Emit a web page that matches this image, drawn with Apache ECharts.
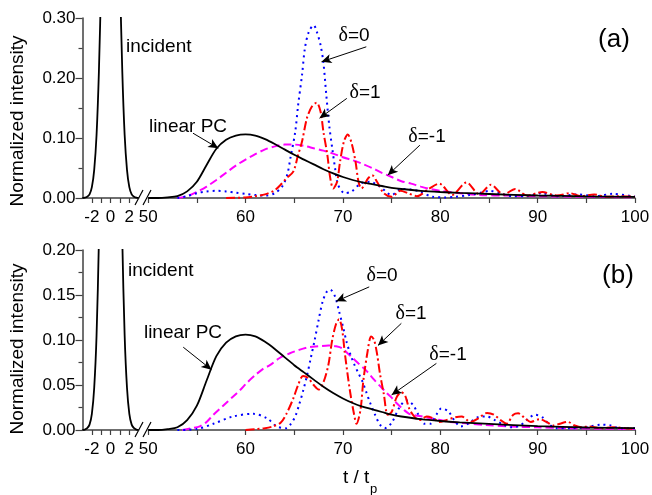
<!DOCTYPE html>
<html><head><meta charset="utf-8">
<script src="https://cdn.jsdelivr.net/npm/echarts@6/dist/echarts.min.js"></script>
<style>html,body{margin:0;padding:0;background:#fff}#c{width:652px;height:495px}</style>
</head><body><div id="c"></div>
<script>
// ---------- data ----------
const incT = [-3, -2.75, -2.5, -2.25, -2, -1.75, -1.5, -1.25, -1, -0.75, -0.5, -0.25, 0, 0.25, 0.5, 0.75, 1, 1.25, 1.5, 1.75, 2, 2.25, 2.5, 2.75, 3];
const incV = [0.0001, 0.0005, 0.002, 0.006, 0.018, 0.047, 0.105, 0.21, 0.37, 0.57, 0.78, 0.94, 1, 0.94, 0.78, 0.57, 0.37, 0.21, 0.105, 0.047, 0.018, 0.006, 0.002, 0.0005, 0.0001];

const pcT = [50, 51, 52, 53, 54, 55, 56, 57, 58, 59, 60, 61, 62, 63, 64, 65, 66, 67, 68, 69, 70, 71, 72, 73, 74, 75, 76, 78, 80, 82, 85, 90, 95, 100];
const pcV = [0, 0, 0.001, 0.003, 0.011, 0.027, 0.055, 0.082, 0.097, 0.104, 0.106, 0.104, 0.098, 0.090, 0.081, 0.072, 0.064, 0.056, 0.048, 0.041, 0.035, 0.030, 0.026, 0.023, 0.020, 0.017, 0.015, 0.012, 0.010, 0.0085, 0.0067, 0.0042, 0.0028, 0.002];

// panel (a)
const a0T = [53, 54, 55, 56, 57, 58, 59, 60, 61, 62, 63, 63.8, 64.3, 64.6, 65.1, 65.4, 65.8, 66.1, 66.5, 67.0, 67.3, 67.7, 68.0, 68.3, 68.6, 68.9, 69.2, 69.5, 70.2, 70.9, 71.8, 72.8, 73.8, 75, 76, 77, 77.9, 79.2, 80.5, 81.5, 83, 84.2, 85.1, 86.1, 87.5, 88.8, 90.4, 92, 94.1, 96, 97.7, 100];
const a0V = [0, 0.003, 0.008, 0.011, 0.012, 0.011, 0.009, 0.007, 0.005, 0.004, 0.008, 0.02, 0.04, 0.066, 0.11, 0.155, 0.205, 0.25, 0.277, 0.288, 0.278, 0.255, 0.225, 0.17, 0.12, 0.083, 0.049, 0.022, 0.008, 0.011, 0.024, 0.027, 0.019, 0.005, 0.015, 0.014, 0.011, 0.002, 0.001, 0.002, 0.005, 0.009, 0.012, 0.008, 0.003, 0.003, 0.008, 0.003, 0.006, 0.003, 0.007, 0.002];

const a1T = [58, 60, 61, 62, 63, 63.6, 64.2, 64.9, 65.4, 65.8, 66.3, 66.8, 67.3, 67.7, 68.0, 68.4, 68.7, 69.0, 69.4, 69.7, 70.1, 70.5, 70.9, 71.3, 71.6, 71.9, 72.6, 73.0, 73.5, 74.2, 75.0, 75.9, 76.7, 77.6, 78.8, 79.9, 81.2, 82.7, 84.0, 85.2, 86.5, 87.7, 88.9, 90.5, 92.0, 93.3, 94.5, 95.8, 97.0, 98.4, 100];
const a1V = [0, 0.001, 0.003, 0.006, 0.013, 0.022, 0.033, 0.044, 0.072, 0.094, 0.133, 0.152, 0.159, 0.144, 0.11, 0.072, 0.033, 0.016, 0.027, 0.06, 0.094, 0.106, 0.091, 0.06, 0.027, 0.016, 0.033, 0.038, 0.027, 0.008, 0.002, 0.012, 0.008, 0.003, 0.015, 0.024, 0.005, 0.026, 0.006, 0.022, 0.006, 0.015, 0.004, 0.010, 0.004, 0.008, 0.003, 0.006, 0.002, 0.003, 0.002];

const amT = [53, 54, 55, 56, 57, 58, 59, 60, 61, 62, 63, 64, 65, 66, 67, 68, 69, 70, 71, 72, 73, 74, 75, 76, 77, 78, 79, 80, 82, 84, 87, 90, 95, 100];
const amV = [0, 0.003, 0.01, 0.019, 0.03, 0.042, 0.054, 0.064, 0.073, 0.081, 0.086, 0.089, 0.089, 0.087, 0.083, 0.079, 0.074, 0.068, 0.063, 0.057, 0.05, 0.042, 0.035, 0.028, 0.024, 0.019, 0.015, 0.012, 0.008, 0.005, 0.004, 0.003, 0.002, 0.001];

// panel (b)
const b0T = [53, 55, 56.7, 58.7, 60.8, 62.2, 63.2, 64.2, 64.6, 65.1, 65.5, 65.9, 66.3, 66.7, 67.1, 67.5, 67.9, 68.3, 68.7, 69.2, 69.6, 70.0, 70.4, 70.8, 71.2, 71.6, 72.0, 72.4, 72.8, 73.3, 73.8, 74.3, 75.0, 75.8, 76.5, 77.2, 77.7, 78.4, 79.0, 79.6, 80.1, 80.8, 81.5, 82.1, 83.0, 83.8, 84.8, 85.6, 86.5, 87.3, 88.2, 89.0, 89.7, 90.5, 91.2, 92.0, 93.5, 95.0, 96.5, 97.5, 98.5, 100];
const b0V = [0, 0.001, 0.007, 0.015, 0.018, 0.013, 0.004, 0.002, 0.006, 0.015, 0.028, 0.043, 0.06, 0.08, 0.1, 0.122, 0.142, 0.153, 0.156, 0.148, 0.132, 0.115, 0.097, 0.083, 0.072, 0.063, 0.054, 0.042, 0.03, 0.017, 0.006, 0.002, 0.008, 0.025, 0.033, 0.028, 0.018, 0.007, 0.007, 0.017, 0.024, 0.021, 0.01, 0.004, 0.008, 0.014, 0.015, 0.011, 0.006, 0.003, 0.005, 0.012, 0.017, 0.014, 0.006, 0.002, 0.002, 0.003, 0.006, 0.005, 0.002, 0.002];

const b1T = [60, 61, 62, 62.8, 63.6, 64.2, 64.9, 65.4, 65.9, 66.4, 67.0, 67.5, 68.0, 68.5, 68.9, 69.3, 69.6, 69.9, 70.2, 70.7, 71.1, 71.4, 71.8, 72.1, 72.5, 72.9, 73.2, 73.5, 73.8, 74.2, 74.6, 75.0, 75.5, 76.0, 76.4, 76.8, 77.4, 77.9, 78.6, 79.3, 79.9, 80.6, 81.5, 82.2, 83.1, 83.9, 84.8, 85.5, 86.2, 86.8, 87.5, 88.0, 88.7, 89.3, 90.2, 90.9, 91.6, 92.3, 93.1, 93.8, 94.5, 95.3, 96.4, 97.7, 100];
const b1V = [0, 0.001, 0.002, 0.004, 0.008, 0.018, 0.035, 0.05, 0.06, 0.058, 0.05, 0.045, 0.053, 0.072, 0.1, 0.118, 0.123, 0.113, 0.085, 0.045, 0.02, 0.007, 0.022, 0.055, 0.085, 0.104, 0.1, 0.085, 0.063, 0.04, 0.017, 0.02, 0.036, 0.042, 0.038, 0.024, 0.014, 0.011, 0.015, 0.013, 0.009, 0.011, 0.014, 0.015, 0.009, 0.013, 0.019, 0.017, 0.011, 0.007, 0.017, 0.0185, 0.013, 0.009, 0.012, 0.009, 0.005, 0.007, 0.009, 0.005, 0.003, 0.004, 0.002, 0.003, 0.001];

const bmT = [53.5, 54.5, 55.3, 56, 56.7, 57.7, 58.7, 59.5, 60.1, 61, 61.8, 62.5, 63.5, 64.5, 65.5, 66.5, 67.5, 68.5, 69.3, 69.9, 70.5, 71, 71.6, 72.4, 73.1, 73.8, 74.5, 75, 75.5, 76.2, 76.8, 77.5, 78.2, 79, 80, 81, 82.7, 84.7, 87, 90, 93, 96, 100];
const bmV = [0, 0.002, 0.004, 0.009, 0.017, 0.027, 0.037, 0.045, 0.052, 0.061, 0.068, 0.072, 0.08, 0.085, 0.089, 0.092, 0.093, 0.094, 0.093, 0.091, 0.085, 0.08, 0.074, 0.066, 0.057, 0.049, 0.041, 0.036, 0.03, 0.023, 0.018, 0.016, 0.015, 0.013, 0.011, 0.009, 0.0074, 0.0055, 0.004, 0.003, 0.002, 0.0015, 0.001];

// tick labels
const xLeftTicks = [-2, -1, 0, 1, 2];
const xLeftLabels = [-2, 0, 2];
const xRightTicks = [50, 55, 60, 65, 70, 75, 80, 85, 90, 95, 100];
const xRightLabels = [50, 60, 70, 80, 90, 100];
const yTicksA = [0, 0.1, 0.2, 0.3];
const yTicksB = [0, 0.05, 0.1, 0.15, 0.2];

// annotation arrows [from, to] in data units
const arrowsA = [[[54.6, 0.108], [57.2, 0.083]], [[72.4, 0.252], [67.8, 0.227]], [[70.4, 0.166], [67.6, 0.133]], [[77.9, 0.088], [74.6, 0.038]]];
const arrowsB = [[[53.6, 0.092], [56.5, 0.067]], [[72.7, 0.159], [69.3, 0.143]], [[76.0, 0.1185], [73.6, 0.094]], [[79.6, 0.074], [75.0, 0.039]]];

// ---------- chart ----------
const FONT = "'Liberation Sans', Arial, sans-serif";
const AXC = '#404040';
const zip = (t, v) => t.map((x, i) => [x, v[i]]);

const gridL = 82.5, gridLW = 56.2, gridR = 148.2, gridRW = 486.8;
const tops = [18, 250], H = 180;
const grids = [];
tops.forEach(tp => {
  grids.push({left: gridL, top: tp, width: gridLW, height: H, outerBoundsMode: 'none', containLabel: false});
  grids.push({left: gridR, top: tp, width: gridRW, height: H, outerBoundsMode: 'none', containLabel: false});
});

function xAx(gi, left) {
  const ticks = left ? xLeftTicks : xRightTicks;
  const labs = left ? xLeftLabels : xRightLabels;
  return {
    type: 'value', gridIndex: gi,
    min: left ? -3 : 50, max: left ? 3 : 100, interval: left ? 1 : 5,
    splitLine: {show: false},
    axisLine: {show: true, onZero: false, lineStyle: {color: AXC, width: 1.5}},
    axisTick: {show: true, length: 5, lineStyle: {color: AXC, width: 1.2}, customValues: ticks},
    axisLabel: {show: true, margin: 11, color: '#000', fontSize: 17, fontFamily: FONT,
      customValues: labs, showMinLabel: true, showMaxLabel: true,
      formatter: v => labs.indexOf(Math.round(v * 1000) / 1000) >= 0 ? String(v) : ''}
  };
}
function yAx(gi, max, interval, show, ticks) {
  return {
    type: 'value', gridIndex: gi, min: 0, max: max, interval: interval, show: show,
    splitLine: {show: false},
    axisLine: {show: show, onZero: false, lineStyle: {color: AXC, width: 1.5}},
    axisTick: {show: show, length: 7, lineStyle: {color: AXC, width: 1.2}},
    minorTick: {show: show, splitNumber: 2, length: 4, lineStyle: {color: AXC, width: 1.2}},
    axisLabel: {show: show, margin: 7, color: '#000', fontSize: 17, fontFamily: FONT,
      formatter: v => v.toFixed(2)}
  };
}

const xAxis = [xAx(0, true), xAx(1, false), xAx(2, true), xAx(3, false)];
const yAxis = [yAx(0, 0.3, 0.1, true, yTicksA), yAx(1, 0.3, 0.1, false, yTicksA),
               yAx(2, 0.2, 0.05, true, yTicksB), yAx(3, 0.2, 0.05, false, yTicksB)];

function line(name, xi, data, color, type, width) {
  return {
    name, type: 'line', xAxisIndex: xi, yAxisIndex: xi, data,
    symbol: 'none', showSymbol: false, smooth: 0.3, clip: true, animation: false, silent: true,
    lineStyle: {color, width: width || 2, type: type || 'solid', cap: 'butt'}
  };
}
function arrows(list) {
  return {
    silent: true, animation: false, symbol: ['none', 'arrow'], symbolSize: [7, 10],
    label: {show: false}, emphasis: {disabled: true},
    lineStyle: {color: '#000', width: 1, type: 'solid'},
    data: list.map(a => [{coord: a[0]}, {coord: a[1]}])
  };
}

const DOT = [2, 4], DASH = [8, 4], DASHDOT = [9, 3, 2, 3];
const pcA = line('linear PC a', 1, zip(pcT, pcV), '#000', 'solid', 1.8);
pcA.markLine = arrows(arrowsA);
const pcB = line('linear PC b', 3, zip(pcT, pcV), '#000', 'solid', 1.8);
pcB.markLine = arrows(arrowsB);

const series = [
  line('incident a', 0, zip(incT, incV), '#000', 'solid', 1.8),
  line('δ=-1 a', 1, zip(amT, amV), '#ff00ff', DASH, 2),
  line('δ=0 a', 1, zip(a0T, a0V), '#0000ff', DOT, 2),
  line('δ=1 a', 1, zip(a1T, a1V), '#ff0000', DASHDOT, 2),
  pcA,
  line('incident b', 2, zip(incT, incV), '#000', 'solid', 1.8),
  line('δ=-1 b', 3, zip(bmT, bmV), '#ff00ff', DASH, 2),
  line('δ=0 b', 3, zip(b0T, b0V), '#0000ff', DOT, 2),
  line('δ=1 b', 3, zip(b1T, b1V), '#ff0000', DASHDOT, 2),
  pcB
];

function txt(x, y, text, size, align, extra) {
  return Object.assign({type: 'text', x, y, silent: true, style: {
    text, fill: '#000', font: size + 'px ' + FONT, textAlign: align || 'center', textVerticalAlign: 'middle'}}, extra || {});
}
function delta(x, y, rest) {
  return {type: 'text', x, y, silent: true, style: {
    text: '{d|δ}{n|' + rest + '}', textAlign: 'center', textVerticalAlign: 'middle', fill: '#000',
    rich: {d: {fontFamily: "'Liberation Serif', serif", fontSize: 20, fill: '#000'},
           n: {fontFamily: FONT, fontSize: 19, fill: '#000'}}}};
}
function slashes(yb) {
  const s = {stroke: '#000', lineWidth: 1.2};
  return [
    {type: 'line', silent: true, shape: {x1: 135, y1: yb + 7, x2: 143, y2: yb - 8}, style: s},
    {type: 'line', silent: true, shape: {x1: 143, y1: yb + 7, x2: 151, y2: yb - 8}, style: s}
  ];
}

const graphic = [
  txt(18, 121, 'Normalized intensity', 19, 'center', {rotation: Math.PI / 2}),
  txt(18, 349, 'Normalized intensity', 19, 'center', {rotation: Math.PI / 2}),
  txt(126, 47, 'incident', 19, 'left'),
  txt(188, 127, 'linear PC', 19, 'center'),
  delta(354, 36, '=0'), delta(365, 93, '=1'), delta(427, 137, '=-1'),
  txt(614, 40, '(a)', 26, 'center'),
  txt(128, 271, 'incident', 19, 'left'),
  txt(183, 333, 'linear PC', 19, 'center'),
  delta(382, 276, '=0'), delta(411, 314, '=1'), delta(448, 355, '=-1'),
  txt(618, 276, '(b)', 26, 'center'),
  txt(343, 478, 't / t', 19, 'left'),
  txt(370, 489, 'p', 13, 'left')
].concat(slashes(198), slashes(430));

const chart = echarts.init(document.getElementById('c'), null, {renderer: 'canvas'});
chart.setOption({
  animation: false, backgroundColor: '#fff',
  grid: grids, xAxis, yAxis, series, graphic
});
</script>
</body></html>
